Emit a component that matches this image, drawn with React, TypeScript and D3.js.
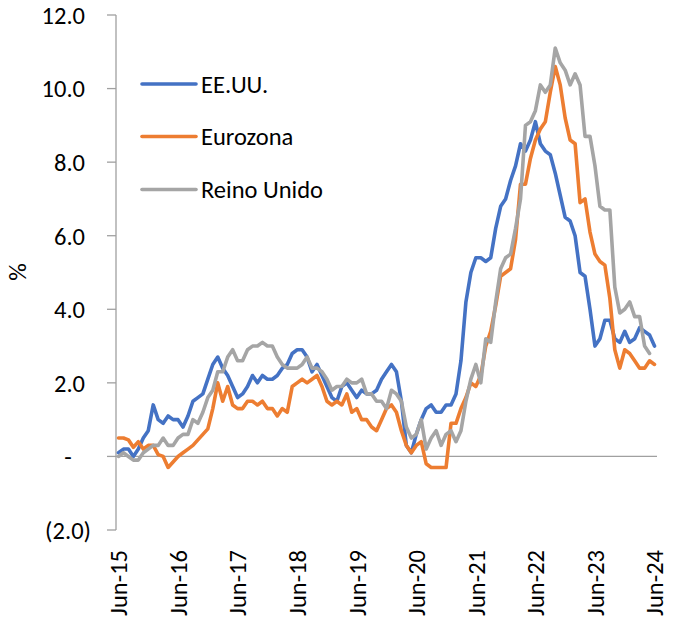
import React from "react";
import * as d3 from "d3";

const W = 681;
const H = 635;

// Monthly categories, Jun-2015 .. Jun-2024 (109 months)
const months: Date[] = d3.timeMonth.range(new Date(2015, 5, 1), new Date(2024, 6, 1));

const xTickLabels = ["Jun-15", "Jun-16", "Jun-17", "Jun-18", "Jun-19", "Jun-20", "Jun-21", "Jun-22", "Jun-23", "Jun-24"];
const yTicks = [-2, 0, 2, 4, 6, 8, 10, 12];
const yAxisTitle = "%";

const usa: (number | null)[] = [
  0.1, 0.2, 0.2, 0.0, 0.2, 0.5, 0.7,
  1.4, 1.0, 0.9, 1.1, 1.0, 1.0, 0.8, 1.1, 1.5, 1.6, 1.7, 2.1,
  2.5, 2.7, 2.4, 2.2, 1.9, 1.6, 1.7, 1.9, 2.2, 2.0, 2.2, 2.1,
  2.1, 2.2, 2.4, 2.5, 2.8, 2.9, 2.9, 2.7, 2.3, 2.5, 2.2, 1.9,
  1.6, 1.5, 1.9, 2.0, 1.8, 1.6, 1.8, 1.7, 1.7, 1.8, 2.1, 2.3,
  2.5, 2.3, 1.5, 0.3, 0.1, 0.6, 1.0, 1.3, 1.4, 1.2, 1.2, 1.4,
  1.4, 1.7, 2.6, 4.2, 5.0, 5.4, 5.4, 5.3, 5.4, 6.2, 6.8, 7.0,
  7.5, 7.9, 8.5, 8.3, 8.6, 9.1, 8.5, 8.3, 8.2, 7.7, 7.1, 6.5,
  6.4, 6.0, 5.0, 4.9, 4.0, 3.0, 3.2, 3.7, 3.7, 3.2, 3.1, 3.4,
  3.1, 3.2, 3.5, 3.4, 3.3, 3.0,
];

const eurozone: (number | null)[] = [
  0.5, 0.5, 0.45, 0.25, 0.4, 0.2, 0.3,
  0.3, 0.05, 0.0, -0.3, -0.15, 0.0, 0.1, 0.2, 0.3, 0.45, 0.6, 0.75,
  1.3, 2.0, 1.5, 1.9, 1.4, 1.3, 1.3, 1.5, 1.5, 1.4, 1.5, 1.3,
  1.3, 1.1, 1.3, 1.2, 1.9, 2.0, 2.1, 2.0, 2.1, 2.2, 1.9, 1.5,
  1.4, 1.5, 1.4, 1.7, 1.2, 1.3, 1.0, 1.0, 0.8, 0.7, 1.0, 1.3,
  1.4, 1.2, 0.7, 0.3, 0.1, 0.3, 0.4, -0.2, -0.3, -0.3, -0.3, -0.3,
  0.9, 0.9, 1.3, 1.6, 2.0, 1.9, 2.2, 3.0, 3.4, 4.1, 4.9, 5.0,
  5.1, 5.9, 7.4, 7.4, 8.1, 8.6, 8.9, 9.1, 9.9, 10.6, 10.1, 9.2,
  8.6, 8.5, 6.9, 7.0, 6.1, 5.5, 5.3, 5.2, 4.3, 2.9, 2.4, 2.9,
  2.8, 2.6, 2.4, 2.4, 2.6, 2.5,
];

const uk: (number | null)[] = [
  0.0, 0.1, 0.0, -0.1, -0.1, 0.1, 0.2,
  0.3, 0.3, 0.5, 0.3, 0.3, 0.5, 0.6, 0.6, 1.0, 0.9, 1.2, 1.6,
  1.8, 2.3, 2.3, 2.7, 2.9, 2.6, 2.6, 2.9, 3.0, 3.0, 3.1, 3.0,
  3.0, 2.7, 2.5, 2.4, 2.4, 2.4, 2.5, 2.7, 2.4, 2.4, 2.3, 2.1,
  1.8, 1.9, 1.9, 2.1, 2.0, 2.0, 2.1, 1.7, 1.7, 1.5, 1.5, 1.3,
  1.8, 1.7, 1.5, 0.8, 0.5, 0.6, 1.0, 0.2, 0.5, 0.7, 0.3, 0.6,
  0.7, 0.4, 0.7, 1.5, 2.1, 2.5, 2.0, 3.2, 3.1, 4.2, 5.1, 5.4,
  5.5, 6.2, 7.0, 9.0, 9.1, 9.4, 10.1, 9.9, 10.1, 11.1, 10.7, 10.5,
  10.1, 10.4, 10.1, 8.7, 8.7, 7.9, 6.8, 6.7, 6.7, 4.6, 3.9, 4.0,
  4.2, 3.8, 3.8, 3.0, 2.8, null,
];

const seriesNames = ["EE.UU.", "Eurozona", "Reino Unido"];
const seriesColors = ["#4472C4", "#ED7D31", "#A5A5A5"];
const seriesValues = [usa, eurozone, uk];

const FONT = "Calibri, Carlito, Lato, 'Noto Sans', sans-serif";

export default function App() {
  const x = d3.scaleLinear().domain([-0.5, months.length - 0.5]).range([116, 657]);
  const y = d3.scaleLinear().domain([-2, 12]).range([530, 15]);

  const line = d3
    .line<number | null>()
    .defined((d) => d !== null)
    .x((_, i) => x(i))
    .y((d) => y(d as number));

  const fmt = (v: number) => (v === 0 ? "-" : v < 0 ? `(${Math.abs(v).toFixed(1)})` : v.toFixed(1));
  const axisColor = "#A0A0A0";
  const fontSize = 24.5;

  return (
    <div style={{ position: "absolute", left: 0, top: 0 }}>
      <svg width={W} height={H} style={{ display: "block", fontFamily: FONT }}>
        <rect width={W} height={H} fill="#fff" />
        {/* y axis */}
        <line x1={x.range()[0]} x2={x.range()[0]} y1={y(12)} y2={y(-2)} stroke={axisColor} strokeWidth={1.3} />
        {yTicks.map((t) => (
          <g key={t}>
            <line x1={107} x2={x.range()[0]} y1={y(t)} y2={y(t)} stroke={axisColor} strokeWidth={1.3} />
            <text
              x={t === 0 ? 68 : t < 0 ? 91 : 85}
              y={y(t)}
              dy="0.36em"
              textAnchor={t === 0 ? "middle" : "end"}
              fontSize={fontSize}
              fill="#000"
            >
              {fmt(t)}
            </text>
          </g>
        ))}
        {/* zero line (category axis) */}
        <line x1={x.range()[0]} x2={x.range()[1]} y1={y(0)} y2={y(0)} stroke={axisColor} strokeWidth={1.3} />
        {/* x labels */}
        {xTickLabels.map((lab, k) => (
          <text
            key={lab}
            transform={`translate(${x(k * 12)},550) rotate(-90)`}
            dy="0.36em"
            textAnchor="end"
            fontSize={fontSize}
            fill="#000"
          >
            {lab}
          </text>
        ))}
        {/* y title */}
        <text transform={`translate(17,272) rotate(-90)`} dy="0.36em" textAnchor="middle" fontSize={fontSize} fill="#000">
          {yAxisTitle}
        </text>
        {/* series */}
        {seriesValues.map((vals, s) => (
          <path
            key={seriesNames[s]}
            d={line(vals) || ""}
            fill="none"
            stroke={seriesColors[s]}
            strokeWidth={3.6}
            strokeLinejoin="round"
            strokeLinecap="round"
          />
        ))}
        {/* legend */}
        {seriesNames.map((n, s) => {
          const ly = [84, 136.5, 189.5][s];
          return (
            <g key={n}>
              <line x1={142} x2={196} y1={ly} y2={ly} stroke={seriesColors[s]} strokeWidth={3.6} strokeLinecap="round" />
              <text x={201} y={ly} dy="0.36em" fontSize={fontSize} fill="#000">
                {n}
              </text>
            </g>
          );
        })}
      </svg>
    </div>
  );
}
